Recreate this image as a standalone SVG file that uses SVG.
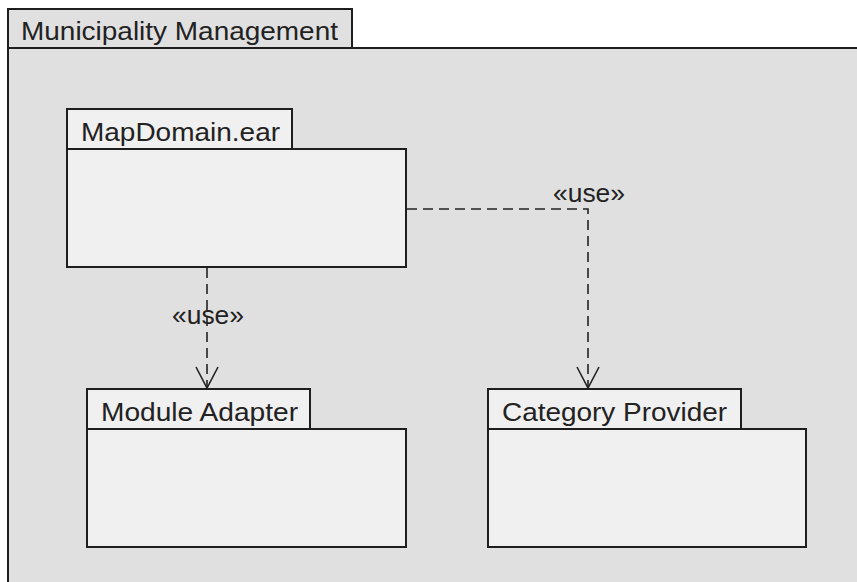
<svg xmlns="http://www.w3.org/2000/svg" width="857" height="582" viewBox="0 0 857 582">
<style>
.pk{fill:#f0f0f0;stroke:#1e1e1e;stroke-width:2}
.outer{fill:#e0e0e0;stroke:#1e1e1e;stroke-width:2}
.t{font-family:"Liberation Sans",Arial,sans-serif;font-size:25px;fill:#222}
.c{fill:none;stroke:#222;stroke-width:1.6;stroke-dasharray:10,6}
.ah{fill:none;stroke:#222;stroke-width:1.6}
</style>
<rect width="857" height="582" fill="#ffffff"/>
<g id="municipality-management">
<rect class="outer" x="8" y="9" width="344" height="39"/>
<rect class="outer" x="8" y="48" width="860" height="545"/>
<text class="t" x="21" y="40" textLength="317" lengthAdjust="spacingAndGlyphs">Municipality Management</text>
</g>
<g id="mapdomain">
<rect class="pk" x="67" y="109" width="225" height="40"/>
<rect class="pk" x="67" y="149" width="339" height="118"/>
<text class="t" x="81" y="141" textLength="199" lengthAdjust="spacingAndGlyphs">MapDomain.ear</text>
</g>
<g id="module-adapter">
<rect class="pk" x="87" y="389" width="223" height="40"/>
<rect class="pk" x="87" y="429" width="319" height="118"/>
<text class="t" x="101" y="421" textLength="197" lengthAdjust="spacingAndGlyphs">Module Adapter</text>
</g>
<g id="category-provider">
<rect class="pk" x="488" y="389" width="253" height="40"/>
<rect class="pk" x="488" y="429" width="318" height="118"/>
<text class="t" x="502" y="421" textLength="225" lengthAdjust="spacingAndGlyphs">Category Provider</text>
</g>
<g id="connectors">
<path class="c" d="M207 268 V388"/>
<path class="ah" d="M196 367 L207 388 L218 367"/>
<text class="t" x="172" y="324" textLength="72" lengthAdjust="spacingAndGlyphs">«use»</text>
<path class="c" d="M407 209 H588 V388"/>
<path class="ah" d="M577 367 L588 388 L599 367"/>
<text class="t" x="553" y="202" textLength="72" lengthAdjust="spacingAndGlyphs">«use»</text>
</g>
</svg>
